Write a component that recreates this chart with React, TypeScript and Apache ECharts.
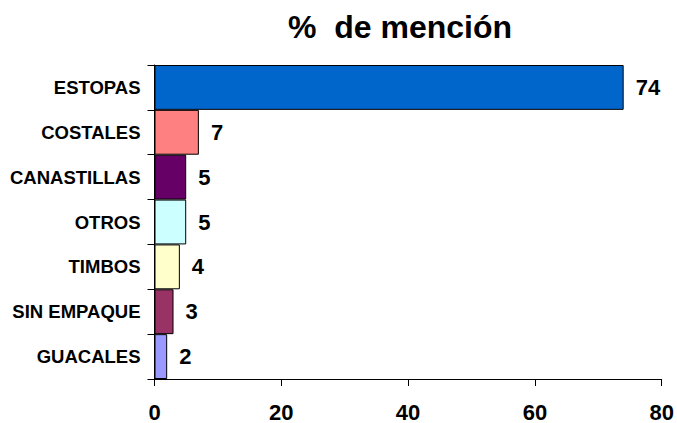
import React, { useEffect, useRef } from "react";
import * as echarts from "echarts";

// Packaging types, top to bottom
const categories = [
  "ESTOPAS",
  "COSTALES",
  "CANASTILLAS",
  "OTROS",
  "TIMBOS",
  "SIN EMPAQUE",
  "GUACALES",
];
// Share of mentions (%)
const mentionPct = [74, 7, 5, 5, 4, 3, 2];
// Value-axis tick labels
const xTicks = [0, 20, 40, 60, 80];

const barColors = [
  "#0066CC",
  "#FF8080",
  "#660066",
  "#CCFFFF",
  "#FFFFCC",
  "#993366",
  "#9999FF",
];

const fontFamily = "'Liberation Sans', Arial, Helvetica, sans-serif";

export default function App() {
  const ref = useRef<HTMLDivElement>(null);

  useEffect(() => {
    if (!ref.current) return;
    const chart = echarts.init(ref.current, null, { renderer: "svg" });
    chart.setOption({
      animation: false,
      backgroundColor: "#ffffff",
      title: {
        text: "%  de mención",
        left: 283,
        top: 6,
        textStyle: {
          fontFamily,
          fontSize: 32,
          fontWeight: "bold",
          color: "#000000",
        },
      },
      grid: {
        left: 154.5,
        right: 15.3,
        top: 65,
        bottom: 41,
        containLabel: false,
      },
      xAxis: {
        type: "value",
        min: xTicks[0],
        max: xTicks[xTicks.length - 1],
        interval: xTicks[1] - xTicks[0],
        axisLine: { show: true, lineStyle: { color: "#000000", width: 1 } },
        axisTick: { show: true, length: 7, lineStyle: { color: "#000000" } },
        splitLine: { show: false },
        axisLabel: {
          fontFamily,
          fontSize: 22,
          fontWeight: "bold",
          color: "#000000",
          margin: 22,
        },
      },
      yAxis: {
        type: "category",
        data: categories,
        inverse: true,
        axisLine: { show: true, lineStyle: { color: "#000000", width: 1 } },
        axisTick: { show: true, length: 7, lineStyle: { color: "#000000" } },
        splitLine: { show: false },
        axisLabel: {
          fontFamily,
          fontSize: 18.5,
          fontWeight: "bold",
          color: "#000000",
          margin: 14,
        },
      },
      series: [
        {
          type: "bar",
          data: mentionPct.map((v, i) => ({
            value: v,
            itemStyle: { color: barColors[i] },
          })),
          barCategoryGap: "0%",
          itemStyle: { borderColor: "#000000", borderWidth: 1 },
          label: {
            show: true,
            position: "right",
            distance: 12,
            fontFamily,
            fontSize: 22,
            fontWeight: "bold",
            color: "#000000",
          },
        },
      ],
    });
    return () => chart.dispose();
  }, []);

  return (
    <div
      ref={ref}
      style={{ position: "absolute", left: 0, top: 0, width: 677, height: 423 }}
    />
  );
}
